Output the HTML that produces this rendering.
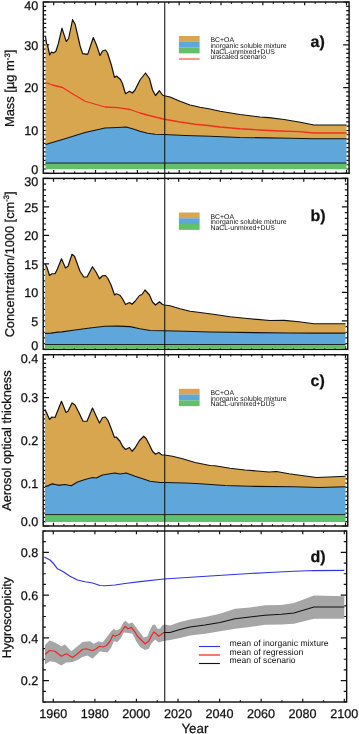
<!DOCTYPE html>
<html><head><meta charset="utf-8"><title>Aerosol time series</title>
<style>
html,body{margin:0;padding:0;background:#fff;}
body{width:359px;height:734px;overflow:hidden;font-family:"Liberation Sans",sans-serif;}
svg{display:block;will-change:transform;text-rendering:geometricPrecision;}
</style></head><body>
<svg width="359" height="734" viewBox="0 0 359 734" font-family='"Liberation Sans", sans-serif' fill="#111111">
<rect x="0" y="0" width="359" height="734" fill="#ffffff"/>
<rect x="43.30" y="2.00" width="305.80" height="171.30" fill="none" stroke="#111111" stroke-width="1.45"/>
<path d="M53.70 173.30V170.00M53.70 2.00V5.30M64.16 173.30V171.60M64.16 2.00V3.70M74.61 173.30V171.60M74.61 2.00V3.70M85.07 173.30V171.60M85.07 2.00V3.70M95.53 173.30V170.00M95.53 2.00V5.30M105.99 173.30V171.60M105.99 2.00V3.70M116.44 173.30V171.60M116.44 2.00V3.70M126.90 173.30V171.60M126.90 2.00V3.70M137.36 173.30V170.00M137.36 2.00V5.30M147.81 173.30V171.60M147.81 2.00V3.70M158.27 173.30V171.60M158.27 2.00V3.70M168.73 173.30V171.60M168.73 2.00V3.70M179.19 173.30V170.00M179.19 2.00V5.30M189.64 173.30V171.60M189.64 2.00V3.70M200.10 173.30V171.60M200.10 2.00V3.70M210.56 173.30V171.60M210.56 2.00V3.70M221.01 173.30V170.00M221.01 2.00V5.30M231.47 173.30V171.60M231.47 2.00V3.70M241.93 173.30V171.60M241.93 2.00V3.70M252.39 173.30V171.60M252.39 2.00V3.70M262.84 173.30V170.00M262.84 2.00V5.30M273.30 173.30V171.60M273.30 2.00V3.70M283.76 173.30V171.60M283.76 2.00V3.70M294.21 173.30V171.60M294.21 2.00V3.70M304.67 173.30V170.00M304.67 2.00V5.30M315.13 173.30V171.60M315.13 2.00V3.70M325.59 173.30V171.60M325.59 2.00V3.70M336.04 173.30V171.60M336.04 2.00V3.70M346.50 173.30V170.00M346.50 2.00V5.30M43.30 173.30H49.20M349.10 173.30H343.20M43.30 169.02H46.20M349.10 169.02H346.20M43.30 164.74H46.20M349.10 164.74H346.20M43.30 160.45H46.20M349.10 160.45H346.20M43.30 156.17H46.20M349.10 156.17H346.20M43.30 151.89H46.20M349.10 151.89H346.20M43.30 147.61H46.20M349.10 147.61H346.20M43.30 143.32H46.20M349.10 143.32H346.20M43.30 139.04H46.20M349.10 139.04H346.20M43.30 134.76H46.20M349.10 134.76H346.20M43.30 130.48H49.20M349.10 130.48H343.20M43.30 126.19H46.20M349.10 126.19H346.20M43.30 121.91H46.20M349.10 121.91H346.20M43.30 117.63H46.20M349.10 117.63H346.20M43.30 113.35H46.20M349.10 113.35H346.20M43.30 109.06H46.20M349.10 109.06H346.20M43.30 104.78H46.20M349.10 104.78H346.20M43.30 100.50H46.20M349.10 100.50H346.20M43.30 96.22H46.20M349.10 96.22H346.20M43.30 91.93H46.20M349.10 91.93H346.20M43.30 87.65H49.20M349.10 87.65H343.20M43.30 83.37H46.20M349.10 83.37H346.20M43.30 79.08H46.20M349.10 79.08H346.20M43.30 74.80H46.20M349.10 74.80H346.20M43.30 70.52H46.20M349.10 70.52H346.20M43.30 66.24H46.20M349.10 66.24H346.20M43.30 61.95H46.20M349.10 61.95H346.20M43.30 57.67H46.20M349.10 57.67H346.20M43.30 53.39H46.20M349.10 53.39H346.20M43.30 49.11H46.20M349.10 49.11H346.20M43.30 44.82H49.20M349.10 44.82H343.20M43.30 40.54H46.20M349.10 40.54H346.20M43.30 36.26H46.20M349.10 36.26H346.20M43.30 31.98H46.20M349.10 31.98H346.20M43.30 27.69H46.20M349.10 27.69H346.20M43.30 23.41H46.20M349.10 23.41H346.20M43.30 19.13H46.20M349.10 19.13H346.20M43.30 14.85H46.20M349.10 14.85H346.20M43.30 10.56H46.20M349.10 10.56H346.20M43.30 6.28H46.20M349.10 6.28H346.20M43.30 2.00H49.20M349.10 2.00H343.20" stroke="#111111" stroke-width="1.2" fill="none"/>
<rect x="43.20" y="178.40" width="304.55" height="170.95" fill="none" stroke="#111111" stroke-width="1.45"/>
<path d="M53.50 349.35V346.05M53.50 178.40V181.70M63.93 349.35V347.65M63.93 178.40V180.10M74.36 349.35V347.65M74.36 178.40V180.10M84.79 349.35V347.65M84.79 178.40V180.10M95.21 349.35V346.05M95.21 178.40V181.70M105.64 349.35V347.65M105.64 178.40V180.10M116.07 349.35V347.65M116.07 178.40V180.10M126.50 349.35V347.65M126.50 178.40V180.10M136.93 349.35V346.05M136.93 178.40V181.70M147.36 349.35V347.65M147.36 178.40V180.10M157.79 349.35V347.65M157.79 178.40V180.10M168.21 349.35V347.65M168.21 178.40V180.10M178.64 349.35V346.05M178.64 178.40V181.70M189.07 349.35V347.65M189.07 178.40V180.10M199.50 349.35V347.65M199.50 178.40V180.10M209.93 349.35V347.65M209.93 178.40V180.10M220.36 349.35V346.05M220.36 178.40V181.70M230.79 349.35V347.65M230.79 178.40V180.10M241.21 349.35V347.65M241.21 178.40V180.10M251.64 349.35V347.65M251.64 178.40V180.10M262.07 349.35V346.05M262.07 178.40V181.70M272.50 349.35V347.65M272.50 178.40V180.10M282.93 349.35V347.65M282.93 178.40V180.10M293.36 349.35V347.65M293.36 178.40V180.10M303.79 349.35V346.05M303.79 178.40V181.70M314.21 349.35V347.65M314.21 178.40V180.10M324.64 349.35V347.65M324.64 178.40V180.10M335.07 349.35V347.65M335.07 178.40V180.10M345.50 349.35V346.05M345.50 178.40V181.70M43.20 349.35H49.10M347.75 349.35H341.85M43.20 343.65H46.10M347.75 343.65H344.85M43.20 337.95H46.10M347.75 337.95H344.85M43.20 332.25H46.10M347.75 332.25H344.85M43.20 326.56H46.10M347.75 326.56H344.85M43.20 320.86H49.10M347.75 320.86H341.85M43.20 315.16H46.10M347.75 315.16H344.85M43.20 309.46H46.10M347.75 309.46H344.85M43.20 303.76H46.10M347.75 303.76H344.85M43.20 298.06H46.10M347.75 298.06H344.85M43.20 292.37H49.10M347.75 292.37H341.85M43.20 286.67H46.10M347.75 286.67H344.85M43.20 280.97H46.10M347.75 280.97H344.85M43.20 275.27H46.10M347.75 275.27H344.85M43.20 269.57H46.10M347.75 269.57H344.85M43.20 263.88H49.10M347.75 263.88H341.85M43.20 258.18H46.10M347.75 258.18H344.85M43.20 252.48H46.10M347.75 252.48H344.85M43.20 246.78H46.10M347.75 246.78H344.85M43.20 241.08H46.10M347.75 241.08H344.85M43.20 235.38H49.10M347.75 235.38H341.85M43.20 229.69H46.10M347.75 229.69H344.85M43.20 223.99H46.10M347.75 223.99H344.85M43.20 218.29H46.10M347.75 218.29H344.85M43.20 212.59H46.10M347.75 212.59H344.85M43.20 206.89H49.10M347.75 206.89H341.85M43.20 201.19H46.10M347.75 201.19H344.85M43.20 195.50H46.10M347.75 195.50H344.85M43.20 189.80H46.10M347.75 189.80H344.85M43.20 184.10H46.10M347.75 184.10H344.85M43.20 178.40H49.10M347.75 178.40H341.85" stroke="#111111" stroke-width="1.2" fill="none"/>
<rect x="43.20" y="354.75" width="304.55" height="171.25" fill="none" stroke="#111111" stroke-width="1.45"/>
<path d="M53.50 526.00V522.70M53.50 354.75V358.05M63.93 526.00V524.30M63.93 354.75V356.45M74.36 526.00V524.30M74.36 354.75V356.45M84.79 526.00V524.30M84.79 354.75V356.45M95.21 526.00V522.70M95.21 354.75V358.05M105.64 526.00V524.30M105.64 354.75V356.45M116.07 526.00V524.30M116.07 354.75V356.45M126.50 526.00V524.30M126.50 354.75V356.45M136.93 526.00V522.70M136.93 354.75V358.05M147.36 526.00V524.30M147.36 354.75V356.45M157.79 526.00V524.30M157.79 354.75V356.45M168.21 526.00V524.30M168.21 354.75V356.45M178.64 526.00V522.70M178.64 354.75V358.05M189.07 526.00V524.30M189.07 354.75V356.45M199.50 526.00V524.30M199.50 354.75V356.45M209.93 526.00V524.30M209.93 354.75V356.45M220.36 526.00V522.70M220.36 354.75V358.05M230.79 526.00V524.30M230.79 354.75V356.45M241.21 526.00V524.30M241.21 354.75V356.45M251.64 526.00V524.30M251.64 354.75V356.45M262.07 526.00V522.70M262.07 354.75V358.05M272.50 526.00V524.30M272.50 354.75V356.45M282.93 526.00V524.30M282.93 354.75V356.45M293.36 526.00V524.30M293.36 354.75V356.45M303.79 526.00V522.70M303.79 354.75V358.05M314.21 526.00V524.30M314.21 354.75V356.45M324.64 526.00V524.30M324.64 354.75V356.45M335.07 526.00V524.30M335.07 354.75V356.45M345.50 526.00V522.70M345.50 354.75V358.05M43.20 526.00H49.10M347.75 526.00H341.85M43.20 521.72H46.10M347.75 521.72H344.85M43.20 517.44H46.10M347.75 517.44H344.85M43.20 513.16H46.10M347.75 513.16H344.85M43.20 508.88H46.10M347.75 508.88H344.85M43.20 504.59H46.10M347.75 504.59H344.85M43.20 500.31H46.10M347.75 500.31H344.85M43.20 496.03H46.10M347.75 496.03H344.85M43.20 491.75H46.10M347.75 491.75H344.85M43.20 487.47H46.10M347.75 487.47H344.85M43.20 483.19H49.10M347.75 483.19H341.85M43.20 478.91H46.10M347.75 478.91H344.85M43.20 474.62H46.10M347.75 474.62H344.85M43.20 470.34H46.10M347.75 470.34H344.85M43.20 466.06H46.10M347.75 466.06H344.85M43.20 461.78H46.10M347.75 461.78H344.85M43.20 457.50H46.10M347.75 457.50H344.85M43.20 453.22H46.10M347.75 453.22H344.85M43.20 448.94H46.10M347.75 448.94H344.85M43.20 444.66H46.10M347.75 444.66H344.85M43.20 440.38H49.10M347.75 440.38H341.85M43.20 436.09H46.10M347.75 436.09H344.85M43.20 431.81H46.10M347.75 431.81H344.85M43.20 427.53H46.10M347.75 427.53H344.85M43.20 423.25H46.10M347.75 423.25H344.85M43.20 418.97H46.10M347.75 418.97H344.85M43.20 414.69H46.10M347.75 414.69H344.85M43.20 410.41H46.10M347.75 410.41H344.85M43.20 406.12H46.10M347.75 406.12H344.85M43.20 401.84H46.10M347.75 401.84H344.85M43.20 397.56H49.10M347.75 397.56H341.85M43.20 393.28H46.10M347.75 393.28H344.85M43.20 389.00H46.10M347.75 389.00H344.85M43.20 384.72H46.10M347.75 384.72H344.85M43.20 380.44H46.10M347.75 380.44H344.85M43.20 376.16H46.10M347.75 376.16H344.85M43.20 371.88H46.10M347.75 371.88H344.85M43.20 367.59H46.10M347.75 367.59H344.85M43.20 363.31H46.10M347.75 363.31H344.85M43.20 359.03H46.10M347.75 359.03H344.85M43.20 354.75H49.10M347.75 354.75H341.85" stroke="#111111" stroke-width="1.2" fill="none"/>
<rect x="43.00" y="531.00" width="303.65" height="171.00" fill="none" stroke="#111111" stroke-width="1.45"/>
<path d="M53.30 702.00V698.70M53.30 531.00V534.30M74.09 702.00V700.30M74.09 531.00V532.70M94.87 702.00V698.70M94.87 531.00V534.30M115.66 702.00V700.30M115.66 531.00V532.70M136.44 702.00V698.70M136.44 531.00V534.30M157.23 702.00V700.30M157.23 531.00V532.70M178.01 702.00V698.70M178.01 531.00V534.30M198.80 702.00V700.30M198.80 531.00V532.70M219.59 702.00V698.70M219.59 531.00V534.30M240.37 702.00V700.30M240.37 531.00V532.70M261.16 702.00V698.70M261.16 531.00V534.30M281.94 702.00V700.30M281.94 531.00V532.70M302.73 702.00V698.70M302.73 531.00V534.30M323.51 702.00V700.30M323.51 531.00V532.70M344.30 702.00V698.70M344.30 531.00V534.30M43.00 702.00H45.90M346.65 702.00H343.75M43.00 691.31H45.90M346.65 691.31H343.75M43.00 680.62H48.90M346.65 680.62H340.75M43.00 669.94H45.90M346.65 669.94H343.75M43.00 659.25H45.90M346.65 659.25H343.75M43.00 648.56H45.90M346.65 648.56H343.75M43.00 637.88H48.90M346.65 637.88H340.75M43.00 627.19H45.90M346.65 627.19H343.75M43.00 616.50H45.90M346.65 616.50H343.75M43.00 605.81H45.90M346.65 605.81H343.75M43.00 595.12H48.90M346.65 595.12H340.75M43.00 584.44H45.90M346.65 584.44H343.75M43.00 573.75H45.90M346.65 573.75H343.75M43.00 563.06H45.90M346.65 563.06H343.75M43.00 552.38H48.90M346.65 552.38H340.75M43.00 541.69H45.90M346.65 541.69H343.75M43.00 531.00H45.90M346.65 531.00H343.75" stroke="#111111" stroke-width="1.2" fill="none"/>
<polygon points="45.50,36.50 46.50,43.50 47.50,45.00 49.70,55.00 51.50,52.00 53.40,53.00 55.90,51.20 58.40,43.40 62.00,28.20 64.20,35.10 66.30,41.50 68.60,38.50 72.60,19.70 75.10,24.20 77.60,35.00 80.10,46.00 82.60,53.60 87.70,54.40 93.30,37.50 96.50,45.00 100.00,55.50 102.50,51.00 105.50,50.00 107.50,53.00 111.50,65.50 114.50,77.50 116.50,76.00 120.50,79.50 122.50,83.75 125.50,93.75 129.50,91.25 132.50,93.00 135.00,90.00 140.00,80.00 145.50,73.00 149.50,78.75 152.50,90.00 155.50,95.50 159.50,90.75 162.50,95.00 164.50,95.75 170.00,97.00 180.00,101.25 190.00,105.00 200.00,107.25 210.00,109.00 220.00,111.25 240.00,114.50 260.00,117.00 269.00,117.70 284.00,119.50 299.00,122.00 314.00,125.00 346.50,125.00 346.50,138.75 314.00,138.75 290.00,138.25 240.00,137.50 210.00,136.25 185.00,135.50 164.50,134.50 155.00,134.25 147.50,133.25 140.00,131.25 132.50,128.75 126.25,127.00 117.50,127.50 105.00,128.00 85.00,132.50 65.00,138.75 45.50,144.50" fill="#D9A650" stroke="none"/>
<polygon points="45.50,144.50 65.00,138.75 85.00,132.50 105.00,128.00 117.50,127.50 126.25,127.00 132.50,128.75 140.00,131.25 147.50,133.25 155.00,134.25 164.50,134.50 185.00,135.50 210.00,136.25 240.00,137.50 290.00,138.25 314.00,138.75 346.50,138.75 346.50,163.05 45.50,163.05" fill="#5FA7DA" stroke="none"/>
<polygon points="45.50,163.05 346.50,163.05 346.50,169.20 45.50,169.20" fill="#62C06B" stroke="none"/>
<polyline points="45.50,36.50 46.50,43.50 47.50,45.00 49.70,55.00 51.50,52.00 53.40,53.00 55.90,51.20 58.40,43.40 62.00,28.20 64.20,35.10 66.30,41.50 68.60,38.50 72.60,19.70 75.10,24.20 77.60,35.00 80.10,46.00 82.60,53.60 87.70,54.40 93.30,37.50 96.50,45.00 100.00,55.50 102.50,51.00 105.50,50.00 107.50,53.00 111.50,65.50 114.50,77.50 116.50,76.00 120.50,79.50 122.50,83.75 125.50,93.75 129.50,91.25 132.50,93.00 135.00,90.00 140.00,80.00 145.50,73.00 149.50,78.75 152.50,90.00 155.50,95.50 159.50,90.75 162.50,95.00 164.50,95.75 170.00,97.00 180.00,101.25 190.00,105.00 200.00,107.25 210.00,109.00 220.00,111.25 240.00,114.50 260.00,117.00 269.00,117.70 284.00,119.50 299.00,122.00 314.00,125.00 346.50,125.00" fill="none" stroke="#111111" stroke-width="1.20" stroke-linejoin="round" />
<polyline points="45.50,144.50 65.00,138.75 85.00,132.50 105.00,128.00 117.50,127.50 126.25,127.00 132.50,128.75 140.00,131.25 147.50,133.25 155.00,134.25 164.50,134.50 185.00,135.50 210.00,136.25 240.00,137.50 290.00,138.25 314.00,138.75 346.50,138.75" fill="none" stroke="#111111" stroke-width="1.20" stroke-linejoin="round" />
<polyline points="45.50,163.05 346.50,163.05" fill="none" stroke="#111111" stroke-width="0.90" stroke-linejoin="round" />
<polyline points="45.50,82.50 52.50,85.00 62.50,87.50 72.50,93.75 85.00,101.25 105.00,107.00 117.50,107.70 130.00,109.50 140.00,113.00 150.00,115.75 164.50,119.25 180.00,122.00 195.00,124.25 210.00,125.75 220.00,127.00 240.00,128.75 260.00,130.00 280.00,131.00 299.00,131.70 314.00,133.00 346.50,133.00" fill="none" stroke="#F0301E" stroke-width="1.30" stroke-linejoin="round" />
<polygon points="45.00,263.75 47.00,267.50 49.50,275.50 52.00,273.75 55.00,273.75 57.50,268.75 61.50,258.75 65.50,268.00 68.00,266.25 72.00,254.25 74.50,256.25 80.00,271.25 83.75,277.00 87.00,277.00 92.50,266.75 96.25,272.50 99.50,278.75 102.50,275.75 105.50,275.50 108.00,278.75 111.25,285.50 114.50,295.00 116.25,293.75 120.00,295.30 122.50,298.75 125.50,304.50 129.50,302.50 132.00,304.25 135.00,301.25 139.50,295.50 142.00,294.50 145.00,290.00 149.50,295.00 152.50,302.00 155.50,305.00 159.50,301.75 162.50,304.50 164.50,305.00 170.00,305.75 180.00,308.75 190.00,311.25 200.00,312.50 215.00,314.50 230.00,316.75 250.00,318.75 270.00,320.50 284.00,320.30 299.00,321.75 314.00,323.75 345.50,323.75 345.50,333.20 314.00,333.20 290.00,333.00 210.00,332.00 185.00,331.25 164.50,330.75 150.00,330.50 140.00,328.75 130.00,326.60 117.50,326.10 105.00,326.25 90.00,328.00 75.00,330.00 62.00,331.90 58.00,332.20 51.00,333.20 45.00,333.30" fill="#D9A650" stroke="none"/>
<polygon points="45.00,333.30 51.00,333.20 58.00,332.20 62.00,331.90 75.00,330.00 90.00,328.00 105.00,326.25 117.50,326.10 130.00,326.60 140.00,328.75 150.00,330.50 164.50,330.75 185.00,331.25 210.00,332.00 290.00,333.00 314.00,333.20 345.50,333.20 345.50,344.50 45.00,344.50" fill="#5FA7DA" stroke="none"/>
<polygon points="45.00,344.50 345.50,344.50 345.50,348.40 45.00,348.40" fill="#62C06B" stroke="none"/>
<polyline points="45.00,263.75 47.00,267.50 49.50,275.50 52.00,273.75 55.00,273.75 57.50,268.75 61.50,258.75 65.50,268.00 68.00,266.25 72.00,254.25 74.50,256.25 80.00,271.25 83.75,277.00 87.00,277.00 92.50,266.75 96.25,272.50 99.50,278.75 102.50,275.75 105.50,275.50 108.00,278.75 111.25,285.50 114.50,295.00 116.25,293.75 120.00,295.30 122.50,298.75 125.50,304.50 129.50,302.50 132.00,304.25 135.00,301.25 139.50,295.50 142.00,294.50 145.00,290.00 149.50,295.00 152.50,302.00 155.50,305.00 159.50,301.75 162.50,304.50 164.50,305.00 170.00,305.75 180.00,308.75 190.00,311.25 200.00,312.50 215.00,314.50 230.00,316.75 250.00,318.75 270.00,320.50 284.00,320.30 299.00,321.75 314.00,323.75 345.50,323.75" fill="none" stroke="#111111" stroke-width="1.20" stroke-linejoin="round" />
<polyline points="45.00,333.30 51.00,333.20 58.00,332.20 62.00,331.90 75.00,330.00 90.00,328.00 105.00,326.25 117.50,326.10 130.00,326.60 140.00,328.75 150.00,330.50 164.50,330.75 185.00,331.25 210.00,332.00 290.00,333.00 314.00,333.20 345.50,333.20" fill="none" stroke="#111111" stroke-width="1.20" stroke-linejoin="round" />
<polyline points="45.00,344.50 345.50,344.50" fill="none" stroke="#111111" stroke-width="0.90" stroke-linejoin="round" />
<polygon points="45.00,409.50 47.00,413.75 49.50,419.50 52.00,417.00 55.00,417.50 57.50,411.25 61.50,401.25 66.00,412.50 68.00,411.25 72.00,403.00 75.00,405.00 79.50,413.75 83.00,421.25 87.00,421.25 92.50,408.00 96.25,416.25 99.50,423.00 102.50,417.50 105.50,417.00 108.00,420.50 111.25,428.75 114.50,437.50 116.25,437.00 120.00,441.25 122.50,446.25 125.50,449.50 129.50,447.50 132.00,451.25 135.00,448.00 139.50,440.50 143.75,436.25 146.25,438.75 149.50,445.00 152.50,451.25 155.50,454.25 158.75,452.50 162.00,455.00 164.50,455.00 172.50,456.25 182.50,458.75 195.00,462.50 210.00,465.50 215.00,465.75 230.00,468.25 245.00,470.00 260.00,471.25 269.00,472.00 276.50,471.50 289.00,473.75 301.50,475.50 316.50,477.50 329.00,477.00 345.50,476.25 345.50,486.75 319.00,487.50 294.00,486.75 250.00,486.25 225.00,485.50 200.00,483.75 185.00,483.00 164.50,482.50 160.00,482.50 150.00,481.25 145.00,479.50 135.00,476.25 126.25,473.00 120.00,474.00 115.00,473.00 110.00,473.75 102.50,475.00 96.25,478.00 92.50,477.50 85.00,479.50 77.50,482.00 71.25,485.75 65.00,484.50 60.00,485.20 58.00,485.10 55.30,484.50 52.50,483.90 50.30,484.60 48.00,485.90 45.00,486.40" fill="#D9A650" stroke="none"/>
<polygon points="45.00,486.40 48.00,485.90 50.30,484.60 52.50,483.90 55.30,484.50 58.00,485.10 60.00,485.20 65.00,484.50 71.25,485.75 77.50,482.00 85.00,479.50 92.50,477.50 96.25,478.00 102.50,475.00 110.00,473.75 115.00,473.00 120.00,474.00 126.25,473.00 135.00,476.25 145.00,479.50 150.00,481.25 160.00,482.50 164.50,482.50 185.00,483.00 200.00,483.75 225.00,485.50 250.00,486.25 294.00,486.75 319.00,487.50 345.50,486.75 345.50,514.60 45.00,514.60" fill="#5FA7DA" stroke="none"/>
<polygon points="45.00,514.60 345.50,514.60 345.50,521.90 45.00,521.90" fill="#62C06B" stroke="none"/>
<polyline points="45.00,409.50 47.00,413.75 49.50,419.50 52.00,417.00 55.00,417.50 57.50,411.25 61.50,401.25 66.00,412.50 68.00,411.25 72.00,403.00 75.00,405.00 79.50,413.75 83.00,421.25 87.00,421.25 92.50,408.00 96.25,416.25 99.50,423.00 102.50,417.50 105.50,417.00 108.00,420.50 111.25,428.75 114.50,437.50 116.25,437.00 120.00,441.25 122.50,446.25 125.50,449.50 129.50,447.50 132.00,451.25 135.00,448.00 139.50,440.50 143.75,436.25 146.25,438.75 149.50,445.00 152.50,451.25 155.50,454.25 158.75,452.50 162.00,455.00 164.50,455.00 172.50,456.25 182.50,458.75 195.00,462.50 210.00,465.50 215.00,465.75 230.00,468.25 245.00,470.00 260.00,471.25 269.00,472.00 276.50,471.50 289.00,473.75 301.50,475.50 316.50,477.50 329.00,477.00 345.50,476.25" fill="none" stroke="#111111" stroke-width="1.20" stroke-linejoin="round" />
<polyline points="45.00,486.40 48.00,485.90 50.30,484.60 52.50,483.90 55.30,484.50 58.00,485.10 60.00,485.20 65.00,484.50 71.25,485.75 77.50,482.00 85.00,479.50 92.50,477.50 96.25,478.00 102.50,475.00 110.00,473.75 115.00,473.00 120.00,474.00 126.25,473.00 135.00,476.25 145.00,479.50 150.00,481.25 160.00,482.50 164.50,482.50 185.00,483.00 200.00,483.75 225.00,485.50 250.00,486.25 294.00,486.75 319.00,487.50 345.50,486.75" fill="none" stroke="#111111" stroke-width="1.20" stroke-linejoin="round" />
<polyline points="45.00,514.60 345.50,514.60" fill="none" stroke="#111111" stroke-width="0.90" stroke-linejoin="round" />
<polygon points="45.00,645.00 49.50,640.50 55.00,642.50 61.25,646.25 65.00,644.50 71.25,651.25 77.50,646.25 82.50,642.00 90.00,641.25 93.75,643.75 98.75,641.25 102.50,642.50 107.50,636.25 111.25,631.25 113.75,628.75 116.25,630.50 120.00,628.75 123.75,622.00 125.50,620.70 128.75,623.75 132.50,622.50 136.25,627.50 140.00,632.50 143.75,637.50 147.50,636.25 150.00,630.00 152.50,625.00 155.00,624.50 157.50,628.75 160.00,628.75 162.50,625.00 165.00,624.50 170.00,625.50 180.00,622.00 190.00,619.50 205.00,617.00 220.00,613.75 235.00,608.75 250.00,607.50 265.00,605.30 281.50,605.00 294.00,603.00 314.00,595.50 344.30,596.25 344.30,618.75 314.00,618.75 294.00,623.75 281.50,624.50 265.00,624.70 250.00,627.00 235.00,628.75 220.00,631.25 205.00,633.75 190.00,635.50 180.00,638.00 170.00,640.00 165.00,640.75 162.50,641.25 158.75,642.50 155.00,639.50 151.25,643.75 148.75,648.75 145.00,650.00 140.00,647.00 136.25,641.25 132.50,633.75 128.75,633.00 123.75,632.50 121.25,637.50 117.50,642.00 113.75,641.25 111.25,647.50 107.50,652.50 103.75,652.00 100.00,651.25 96.25,655.00 92.50,658.75 87.50,655.50 82.50,657.00 77.50,660.00 72.50,662.00 66.25,662.50 61.25,665.50 55.00,662.00 50.00,661.25 45.00,664.50" fill="#A6A6A6" stroke="none"/>
<polyline points="44.30,557.00 50.00,560.00 53.75,563.75 57.50,568.75 62.50,571.25 70.00,576.25 77.50,580.00 85.00,581.75 92.50,583.00 100.00,585.50 105.00,585.75 115.00,585.00 125.00,583.50 140.00,581.70 164.00,579.00 210.00,576.00 250.00,573.50 269.00,572.50 294.00,571.25 314.00,570.50 344.30,570.40" fill="none" stroke="#3333E6" stroke-width="1.25" stroke-linejoin="round" />
<polyline points="45.00,654.50 49.50,650.50 55.00,651.25 61.25,656.25 66.25,653.75 72.50,657.50 77.50,653.75 82.50,649.50 86.25,648.75 92.50,650.75 96.25,648.75 99.50,646.25 102.50,647.00 106.25,645.75 110.00,641.25 113.00,635.00 115.00,636.25 119.50,634.25 122.50,630.00 125.00,626.25 128.00,628.75 131.25,627.50 134.50,631.25 137.50,636.25 141.25,640.00 145.00,643.75 148.75,641.25 151.25,636.25 153.75,632.00 156.25,633.75 158.75,636.25 161.25,634.50 163.75,632.50" fill="none" stroke="#EA2A28" stroke-width="1.25" stroke-linejoin="round" />
<polyline points="163.75,632.50 170.00,632.50 180.00,629.50 190.00,627.00 205.00,625.00 220.00,622.50 235.00,618.75 250.00,617.00 265.00,615.20 281.50,614.25 294.00,613.00 314.00,607.00 344.30,607.00" fill="none" stroke="#111111" stroke-width="1.15" stroke-linejoin="round" />
<line x1="164.75" y1="2" x2="164.75" y2="702" stroke="#111" stroke-width="1.05"/>
<text x="38.20" y="174.10" font-size="12.60" text-anchor="end" font-weight="normal" stroke="#111111" stroke-width="0.25" >0</text>
<text x="38.20" y="135.28" font-size="12.60" text-anchor="end" font-weight="normal" stroke="#111111" stroke-width="0.25" >10</text>
<text x="38.20" y="92.45" font-size="12.60" text-anchor="end" font-weight="normal" stroke="#111111" stroke-width="0.25" >20</text>
<text x="38.20" y="49.62" font-size="12.60" text-anchor="end" font-weight="normal" stroke="#111111" stroke-width="0.25" >30</text>
<text x="38.20" y="9.80" font-size="12.60" text-anchor="end" font-weight="normal" stroke="#111111" stroke-width="0.25" >40</text>
<text x="38.20" y="350.15" font-size="12.60" text-anchor="end" font-weight="normal" stroke="#111111" stroke-width="0.25" >0</text>
<text x="38.20" y="325.66" font-size="12.60" text-anchor="end" font-weight="normal" stroke="#111111" stroke-width="0.25" >5</text>
<text x="38.20" y="297.17" font-size="12.60" text-anchor="end" font-weight="normal" stroke="#111111" stroke-width="0.25" >10</text>
<text x="38.20" y="268.68" font-size="12.60" text-anchor="end" font-weight="normal" stroke="#111111" stroke-width="0.25" >15</text>
<text x="38.20" y="240.18" font-size="12.60" text-anchor="end" font-weight="normal" stroke="#111111" stroke-width="0.25" >20</text>
<text x="38.20" y="211.69" font-size="12.60" text-anchor="end" font-weight="normal" stroke="#111111" stroke-width="0.25" >25</text>
<text x="38.20" y="186.20" font-size="12.60" text-anchor="end" font-weight="normal" stroke="#111111" stroke-width="0.25" >30</text>
<text x="38.20" y="526.00" font-size="12.60" text-anchor="end" font-weight="normal" stroke="#111111" stroke-width="0.25" >0.0</text>
<text x="38.20" y="487.99" font-size="12.60" text-anchor="end" font-weight="normal" stroke="#111111" stroke-width="0.25" >0.1</text>
<text x="38.20" y="445.18" font-size="12.60" text-anchor="end" font-weight="normal" stroke="#111111" stroke-width="0.25" >0.2</text>
<text x="38.20" y="402.36" font-size="12.60" text-anchor="end" font-weight="normal" stroke="#111111" stroke-width="0.25" >0.3</text>
<text x="38.20" y="362.55" font-size="12.60" text-anchor="end" font-weight="normal" stroke="#111111" stroke-width="0.25" >0.4</text>
<text x="38.20" y="685.42" font-size="12.60" text-anchor="end" font-weight="normal" stroke="#111111" stroke-width="0.25" >0.2</text>
<text x="38.20" y="642.67" font-size="12.60" text-anchor="end" font-weight="normal" stroke="#111111" stroke-width="0.25" >0.4</text>
<text x="38.20" y="599.92" font-size="12.60" text-anchor="end" font-weight="normal" stroke="#111111" stroke-width="0.25" >0.6</text>
<text x="38.20" y="557.17" font-size="12.60" text-anchor="end" font-weight="normal" stroke="#111111" stroke-width="0.25" >0.8</text>
<text x="53.20" y="717.70" font-size="12.60" text-anchor="middle" font-weight="normal" stroke="#111111" stroke-width="0.25" >1960</text>
<text x="94.77" y="717.70" font-size="12.60" text-anchor="middle" font-weight="normal" stroke="#111111" stroke-width="0.25" >1980</text>
<text x="136.34" y="717.70" font-size="12.60" text-anchor="middle" font-weight="normal" stroke="#111111" stroke-width="0.25" >2000</text>
<text x="177.91" y="717.70" font-size="12.60" text-anchor="middle" font-weight="normal" stroke="#111111" stroke-width="0.25" >2020</text>
<text x="219.49" y="717.70" font-size="12.60" text-anchor="middle" font-weight="normal" stroke="#111111" stroke-width="0.25" >2040</text>
<text x="261.06" y="717.70" font-size="12.60" text-anchor="middle" font-weight="normal" stroke="#111111" stroke-width="0.25" >2060</text>
<text x="302.63" y="717.70" font-size="12.60" text-anchor="middle" font-weight="normal" stroke="#111111" stroke-width="0.25" >2080</text>
<text x="344.20" y="717.70" font-size="12.60" text-anchor="middle" font-weight="normal" stroke="#111111" stroke-width="0.25" >2100</text>
<text x="194.90" y="732.50" font-size="13.30" text-anchor="middle" font-weight="normal" stroke="#111111" stroke-width="0.25" >Year</text>
<text transform="translate(14.10,88.40) rotate(-90)" font-size="12.90" stroke="#111" stroke-width="0.25" text-anchor="middle">Mass [µg m<tspan font-size="7.7" dy="-4.6">-3</tspan><tspan dy="4.6">]</tspan></text>
<text transform="translate(14.00,264.40) rotate(-90)" font-size="12.77" stroke="#111" stroke-width="0.25" text-anchor="middle">Concentration/1000 [cm<tspan font-size="7.7" dy="-4.6">-3</tspan><tspan dy="4.6">]</tspan></text>
<text transform="translate(10.90,440.60) rotate(-90)" font-size="12.77" stroke="#111" stroke-width="0.25" text-anchor="middle">Aerosol optical thickness</text>
<text transform="translate(10.70,617.60) rotate(-90)" font-size="12.50" stroke="#111" stroke-width="0.25" text-anchor="middle">Hygroscopicity</text>
<rect x="178.90" y="36.00" width="20.70" height="5.85" fill="#D9A650"/>
<rect x="178.90" y="41.75" width="20.70" height="5.85" fill="#5FA7DA"/>
<rect x="178.90" y="47.50" width="20.70" height="5.85" fill="#62C06B"/>
<line x1="178.90" y1="59.00" x2="199.60" y2="59.00" stroke="#F0301E" stroke-width="1"/>
<text x="210.45" y="42.05" font-size="6.90" text-anchor="start" font-weight="normal" >BC+OA</text>
<text x="210.45" y="47.80" font-size="6.90" text-anchor="start" font-weight="normal" >inorganic soluble mixture</text>
<text x="210.45" y="53.55" font-size="6.90" text-anchor="start" font-weight="normal" >NaCL-unmixed+DUS</text>
<text x="210.45" y="59.30" font-size="6.90" text-anchor="start" font-weight="normal" >unscaled scenario</text>
<rect x="178.90" y="212.50" width="20.70" height="5.85" fill="#D9A650"/>
<rect x="178.90" y="218.25" width="20.70" height="5.85" fill="#5FA7DA"/>
<rect x="178.90" y="224.00" width="20.70" height="5.85" fill="#62C06B"/>
<text x="210.45" y="218.55" font-size="6.90" text-anchor="start" font-weight="normal" >BC+OA</text>
<text x="210.45" y="224.30" font-size="6.90" text-anchor="start" font-weight="normal" >inorganic soluble mixture</text>
<text x="210.45" y="230.05" font-size="6.90" text-anchor="start" font-weight="normal" >NaCL-unmixed+DUS</text>
<rect x="178.90" y="388.80" width="20.70" height="5.85" fill="#D9A650"/>
<rect x="178.90" y="394.55" width="20.70" height="5.85" fill="#5FA7DA"/>
<rect x="178.90" y="400.30" width="20.70" height="5.85" fill="#62C06B"/>
<text x="210.45" y="394.85" font-size="6.90" text-anchor="start" font-weight="normal" >BC+OA</text>
<text x="210.45" y="400.60" font-size="6.90" text-anchor="start" font-weight="normal" >inorganic soluble mixture</text>
<text x="210.45" y="406.35" font-size="6.90" text-anchor="start" font-weight="normal" >NaCL-unmixed+DUS</text>
<line x1="198.9" y1="646.50" x2="219.9" y2="646.50" stroke="#3333E6" stroke-width="1.10"/>
<text x="229.60" y="646.30" font-size="8.62" text-anchor="start" font-weight="normal" >mean of inorganic mixture</text>
<line x1="198.9" y1="655.00" x2="219.9" y2="655.00" stroke="#F0301E" stroke-width="1.30"/>
<text x="229.60" y="654.80" font-size="8.62" text-anchor="start" font-weight="normal" >mean of regression</text>
<line x1="198.9" y1="663.50" x2="219.9" y2="663.50" stroke="#111111" stroke-width="1.10"/>
<text x="229.60" y="663.30" font-size="8.62" text-anchor="start" font-weight="normal" >mean of scenario</text>
<text x="310.60" y="46.80" font-size="16.00" text-anchor="start" font-weight="bold" stroke="#111111" stroke-width="0.25" >a)</text>
<text x="310.60" y="221.00" font-size="16.00" text-anchor="start" font-weight="bold" stroke="#111111" stroke-width="0.25" >b)</text>
<text x="310.60" y="386.00" font-size="16.00" text-anchor="start" font-weight="bold" stroke="#111111" stroke-width="0.25" >c)</text>
<text x="310.60" y="562.30" font-size="16.00" text-anchor="start" font-weight="bold" stroke="#111111" stroke-width="0.25" >d)</text>
</svg>
</body></html>
